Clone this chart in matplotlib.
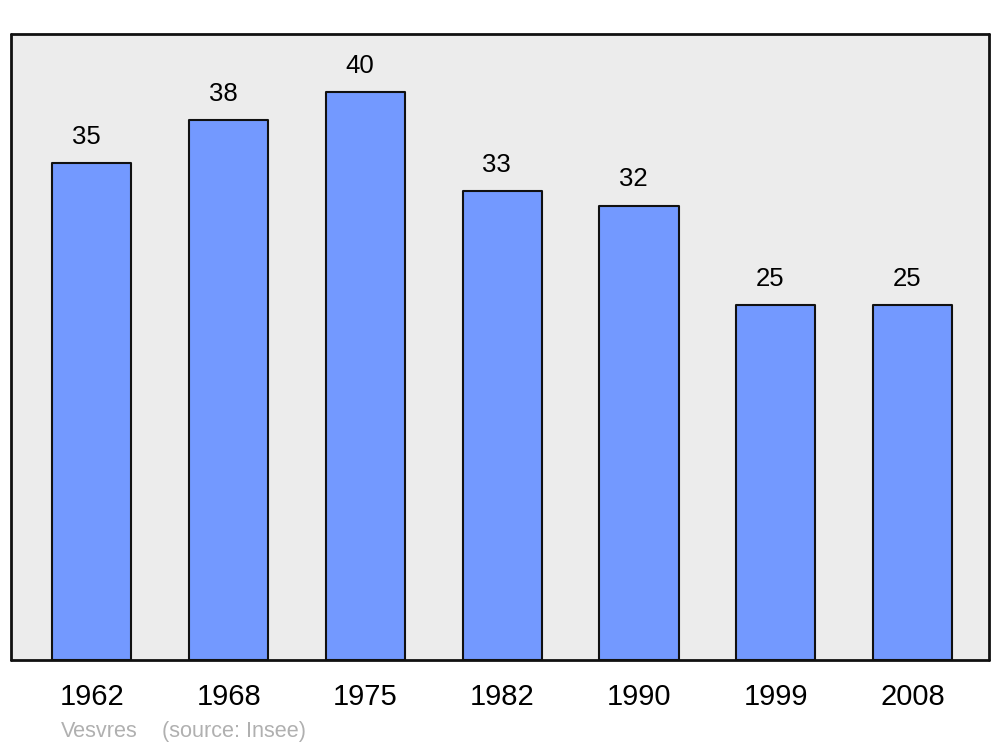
import matplotlib
matplotlib.use("Agg")
import matplotlib.pyplot as plt

years = ["1962", "1968", "1975", "1982", "1990", "1999", "2008"]
values = [35, 38, 40, 33, 32, 25, 25]

plt.rcParams['font.family'] = ['Liberation Sans', 'DejaVu Sans']

fig = plt.figure(figsize=(10, 7.47), dpi=100)
ax = fig.add_axes([0.011, 87/747, 0.978, 626/747])
ax.set_facecolor('#ececec')

x = list(range(len(years)))
bars = ax.bar(x, values, width=0.578, color='#7399ff', edgecolor='#111111',
              linewidth=1.5, joinstyle='round')
ax.set_xlim(-0.592, 6.559)
ax.set_ylim(0, 44.08)

for xi, v in zip(x, values):
    ax.annotate(str(v), (xi, v), xytext=(-4.2, 18.8), textcoords='offset points',
                ha='center', va='center', fontsize=18.5, color='#000000')

ax.set_xticks(x)
ax.set_xticklabels(years, fontsize=21)
ax.tick_params(axis='x', length=0, pad=16.5)
ax.set_yticks([])
for s in ax.spines.values():
    s.set_linewidth(2)
    s.set_color('#111111')
    s.set_capstyle('round')
    s.set_joinstyle('round')

fig.text(0.061, 1 - 731.5/747, "Vesvres", fontsize=15.6, color='#b0b0b0', va='center', ha='left')
fig.text(0.162, 1 - 731.5/747, "(source: Insee)", fontsize=15.6, color='#b0b0b0', va='center', ha='left')

fig.savefig("out.png", dpi=100, facecolor='white')
